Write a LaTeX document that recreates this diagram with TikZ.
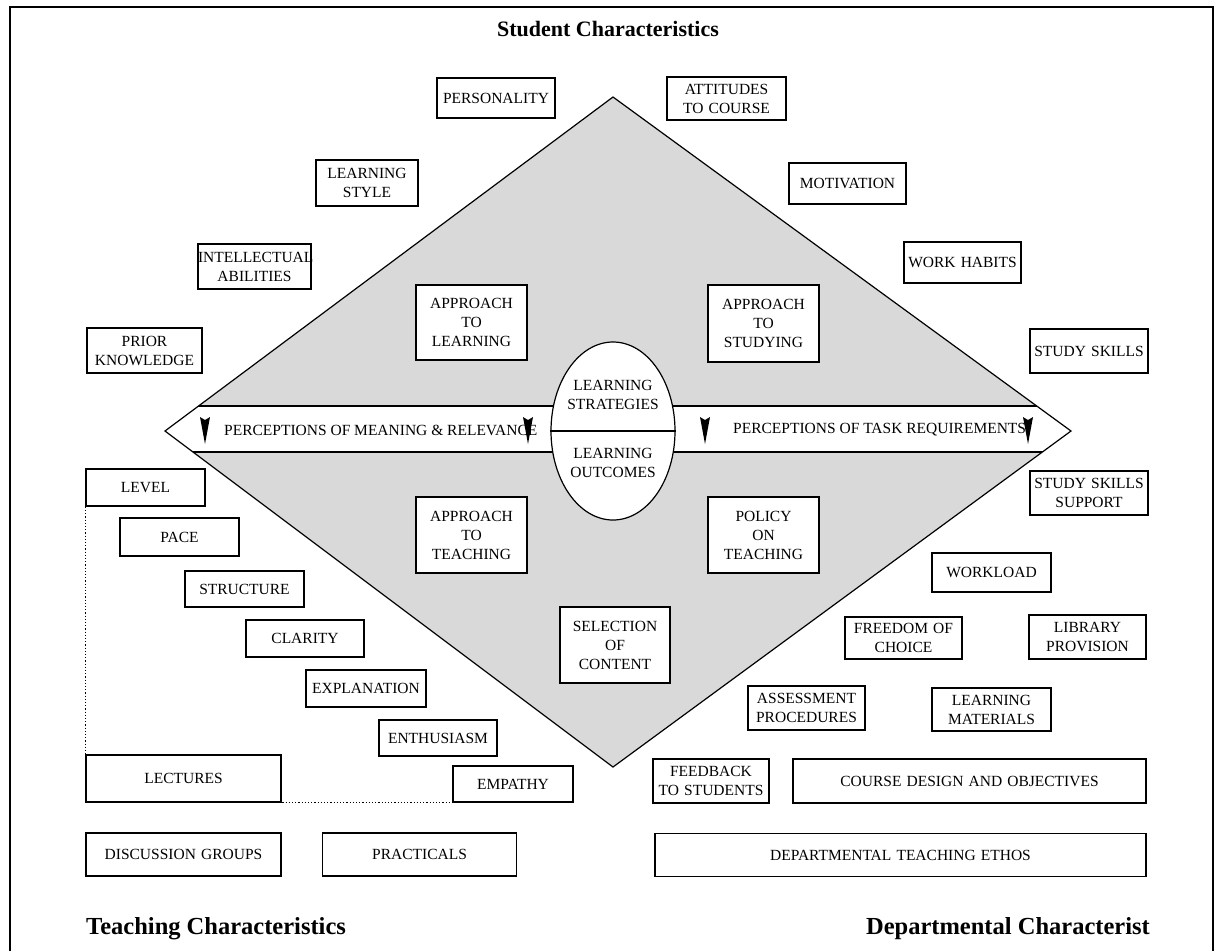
\documentclass[tikz,border=0pt]{standalone}
\usepackage{fontspec}
\setmainfont{Liberation Serif}
\usetikzlibrary{shapes.geometric}
\hyphenpenalty=10000
\exhyphenpenalty=10000

\begin{document}
\begin{tikzpicture}[x=1pt,y=-1pt,
  txt/.style={font=\fontsize{15.5}{19}\selectfont},
  box/.style 2 args={draw,fill=white,line width=1.2pt,txt,align=center,inner xsep=0pt,inner ysep=0pt,text width=#1pt,minimum height=#2pt},
  title/.style={font=\fontsize{22}{26}\selectfont\bfseries,inner sep=0pt},
  btitle/.style={font=\fontsize{24.5}{28}\selectfont\bfseries,inner sep=0pt},
  tip/.style={fill=black}]
\useasboundingbox (0,0) rectangle (1223,951);
\draw[line width=2.5pt] (10,951) -- (10,7) -- (1213,7) -- (1213,951);

% the diamond and the band across it
\coordinate (dtop) at (613,97);
\coordinate (dleft) at (165,431);
\coordinate (dright) at (1071,431);
\coordinate (dbot) at (613,767);
\fill[gray!30] (dtop) -- (dright) -- (dbot) -- (dleft) -- cycle;
\begin{scope}
\clip (dtop) -- (dright) -- (dbot) -- (dleft) -- cycle;
\fill[white] (0,406) rectangle (1223,452);
\draw[line width=1.6pt] (0,406) -- (1223,406) (0,452) -- (1223,452);
\end{scope}
\draw[line width=1.2pt] (dtop) -- (dright) -- (dbot) -- (dleft) -- cycle;

% student
\node[box={118}{40}] (pers) at (496,98) {PERSONALITY};
\node[box={119}{43}] (att) at (726.5,98.5) {ATTITUDES\\TO COURSE};
\node[box={102}{46}] (lstyle) at (367,183) {LEARNING\\STYLE};
\node[box={117}{41}] (motiv) at (847.5,183.5) {MOTIVATION};
\node[box={113}{45}] (intel) at (254.5,266.5) {INTELLECTUAL\\ABILITIES};
\node[box={117}{41}] (work) at (962.5,262.5) {WORK HABITS};
\node[box={115}{45}] (prior) at (144.5,350.5) {PRIOR\\KNOWLEDGE};
\node[box={118}{44}] (skills) at (1089,351) {STUDY SKILLS};
\node[box={111}{75}] (appl) at (471.5,322.5) {APPROACH\\TO\\LEARNING};
\node[box={111}{77}] (apps) at (763.5,323.5) {APPROACH\\TO\\STUDYING};

% band
\node[ellipse,draw,fill=white,line width=1.2pt,minimum width=124pt,minimum height=178pt] (ell) at (613,431) {};
\draw[line width=1.2pt] (ell.west) -- (ell.east);
\node[txt,align=center] (strat) at (613,395) {LEARNING\\STRATEGIES};
\node[txt,align=center] (outc) at (613,463) {LEARNING\\OUTCOMES};
\node[txt,anchor=west,inner sep=0pt] (pmean) at (224,430) {PERCEPTIONS OF MEANING \& RELEVANCE};
\node[txt,anchor=west,inner sep=0pt] (ptask) at (733,430) {PERCEPTIONS OF TASK REQUIREMENTS};
\foreach \x in {205,528,705,1028}
  \fill[tip] (\x-5,417) -- (\x,420) -- (\x+5,417) -- (\x,444) -- cycle;

% teaching
\node[box={118}{44}] (skillsup) at (1089,493) {STUDY SKILLS\\SUPPORT};
\node[box={119}{37}] (level) at (145.5,487.5) {LEVEL};
\node[box={119}{38}] (pace) at (179.5,537) {PACE};
\node[box={111}{76}] (appt) at (471.5,535) {APPROACH\\TO\\TEACHING};
\node[box={111}{76}] (policy) at (763.5,535) {POLICY\\ON\\TEACHING};
\node[box={119}{39}] (workload) at (991.5,572.5) {WORKLOAD};
\node[box={119}{36}] (struct) at (244.5,589) {STRUCTURE};
\node[box={118}{37}] (clarity) at (305,638.5) {CLARITY};
\node[box={110}{76}] (select) at (615,645) {SELECTION\\OF\\CONTENT};
\node[box={117}{42}] (freedom) at (903.5,638) {FREEDOM OF\\CHOICE};
\node[box={117}{44}] (library) at (1087.5,637) {LIBRARY\\PROVISION};
\node[box={120}{37}] (expl) at (366,688.5) {EXPLANATION};
\node[box={117}{44}] (assess) at (806.5,708) {ASSESSMENT\\PROCEDURES};
\node[box={119}{43}] (mater) at (991.5,709.5) {LEARNING\\MATERIALS};
\node[box={118}{36}] (enth) at (438,738) {ENTHUSIASM};
\node[box={195}{47}] (lect) at (183.5,778.5) {LECTURES};
\node[box={120}{36}] (emp) at (513,784) {EMPATHY};
\node[box={116}{44}] (feed) at (711,781) {FEEDBACK\\TO STUDENTS};
\node[box={353}{44}] (course) at (969.5,781) {COURSE DESIGN AND OBJECTIVES};
\node[box={195}{43}] (disc) at (183.5,854.5) {DISCUSSION GROUPS};
\node[box={194}{43}] (prac) at (419.5,854.5) {PRACTICALS};
\node[box={491}{43}] (ethos) at (900.5,855) {DEPARTMENTAL TEACHING ETHOS};
\draw[dotted,line width=1.2pt] (level.west) |- (emp.south west);

% titles
\node[title,anchor=base] (tstud) at (608,36) {Student Characteristics};
\node[btitle,anchor=base west] (tteach) at (86,934) {Teaching Characteristics};
\node[btitle,anchor=base east] (tdept) at (1150,934) {Departmental Characterist};
\end{tikzpicture}
\end{document}
